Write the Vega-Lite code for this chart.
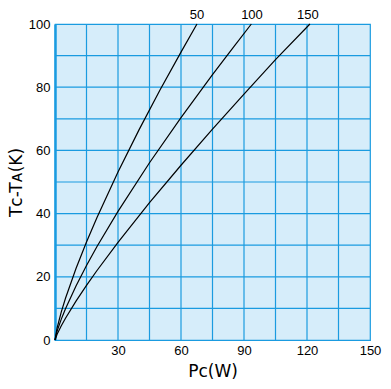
{
  "$schema": "https://vega.github.io/schema/vega-lite/v6.json",
  "width": 315,
  "height": 316,
  "autosize": "none",
  "padding": {"left": 55, "top": 24, "right": 21, "bottom": 49},
  "background": "white",
  "config": {
    "view": {"fill": "#d6edfa", "stroke": "#1a9be0", "strokeWidth": 1.2},
    "axis": {
      "labelFont": "Liberation Sans",
      "labelFontSize": 13,
      "labelColor": "black",
      "titleFont": "DejaVu Sans",
      "titleFontSize": 17,
      "titleFontWeight": "normal",
      "titleColor": "black",
      "ticks": false,
      "grid": false,
      "domainColor": "#1a9be0"
    }
  },
  "datasets": {
    "curves": [
      {"P": 0, "T": 0, "curve": "50"},
      {"P": 1, "T": 3.8, "curve": "50"},
      {"P": 3, "T": 8.9, "curve": "50"},
      {"P": 5, "T": 13.2, "curve": "50"},
      {"P": 10, "T": 22.6, "curve": "50"},
      {"P": 15, "T": 31.0, "curve": "50"},
      {"P": 20, "T": 38.8, "curve": "50"},
      {"P": 30, "T": 53.2, "curve": "50"},
      {"P": 40, "T": 66.5, "curve": "50"},
      {"P": 50, "T": 79.1, "curve": "50"},
      {"P": 60, "T": 91.1, "curve": "50"},
      {"P": 67.6, "T": 100, "curve": "50"},
      {"P": 0, "T": 0, "curve": "100"},
      {"P": 1, "T": 2.8, "curve": "100"},
      {"P": 3, "T": 6.6, "curve": "100"},
      {"P": 5, "T": 9.9, "curve": "100"},
      {"P": 10, "T": 17.1, "curve": "100"},
      {"P": 15, "T": 23.6, "curve": "100"},
      {"P": 20, "T": 29.6, "curve": "100"},
      {"P": 30, "T": 40.7, "curve": "100"},
      {"P": 45, "T": 56.1, "curve": "100"},
      {"P": 60, "T": 70.4, "curve": "100"},
      {"P": 75, "T": 84.0, "curve": "100"},
      {"P": 85, "T": 92.7, "curve": "100"},
      {"P": 93.5, "T": 100, "curve": "100"},
      {"P": 0, "T": 0, "curve": "150"},
      {"P": 1, "T": 1.8, "curve": "150"},
      {"P": 3, "T": 4.5, "curve": "150"},
      {"P": 5, "T": 6.9, "curve": "150"},
      {"P": 10, "T": 12.3, "curve": "150"},
      {"P": 15, "T": 17.3, "curve": "150"},
      {"P": 20, "T": 22.0, "curve": "150"},
      {"P": 30, "T": 30.9, "curve": "150"},
      {"P": 45, "T": 43.5, "curve": "150"},
      {"P": 60, "T": 55.3, "curve": "150"},
      {"P": 75, "T": 66.7, "curve": "150"},
      {"P": 90, "T": 77.8, "curve": "150"},
      {"P": 105, "T": 88.7, "curve": "150"},
      {"P": 121.4, "T": 100, "curve": "150"}
    ],
    "labels": [
      {"P": 67.6, "T": 100, "label": "50"},
      {"P": 93.8, "T": 100, "label": "100"},
      {"P": 120.4, "T": 100, "label": "150"}
    ],
    "xgrid": [
      {"P": 15}, {"P": 30}, {"P": 45}, {"P": 60}, {"P": 75},
      {"P": 90}, {"P": 105}, {"P": 120}, {"P": 135}
    ],
    "ygrid": [
      {"T": 10}, {"T": 20}, {"T": 30}, {"T": 40}, {"T": 50},
      {"T": 60}, {"T": 70}, {"T": 80}, {"T": 90}
    ]
  },
  "layer": [
    {
      "data": {"name": "xgrid"},
      "mark": {"type": "rule", "color": "#1a9be0", "strokeWidth": 1.2},
      "encoding": {
        "x": {"field": "P", "type": "quantitative"}
      }
    },
    {
      "data": {"name": "ygrid"},
      "mark": {"type": "rule", "color": "#1a9be0", "strokeWidth": 1.2},
      "encoding": {
        "y": {"field": "T", "type": "quantitative"}
      }
    },
    {
      "data": {"name": "curves"},
      "mark": {"type": "line", "color": "black", "strokeWidth": 1.2},
      "encoding": {
        "x": {
          "field": "P",
          "type": "quantitative",
          "scale": {"domain": [0, 150], "nice": false},
          "axis": {
            "title": "Pᴄ(W)",
            "values": [30, 60, 90, 120, 150],
            "labelPadding": 4,
            "titlePadding": 6,
            "domainWidth": 1.2,
            "labelFlush": false
          }
        },
        "y": {
          "field": "T",
          "type": "quantitative",
          "scale": {"domain": [0, 100], "nice": false},
          "axis": {
            "title": "Tᴄ-Tᴀ(K)",
            "values": [0, 20, 40, 60, 80, 100],
            "labelPadding": 5,
            "titlePadding": 3,
            "domainWidth": 2.5,
            "labelFlush": false
          }
        },
        "detail": {"field": "curve"}
      }
    },
    {
      "mark": {"type": "rule", "color": "#1a9be0", "strokeWidth": 2.5},
      "encoding": {"y": {"datum": 100}}
    },
    {
      "data": {"name": "labels"},
      "mark": {"type": "text", "font": "Liberation Sans", "fontSize": 13, "color": "black", "baseline": "alphabetic", "dy": -5},
      "encoding": {
        "x": {"field": "P", "type": "quantitative"},
        "y": {"field": "T", "type": "quantitative"},
        "text": {"field": "label"}
      }
    }
  ]
}
